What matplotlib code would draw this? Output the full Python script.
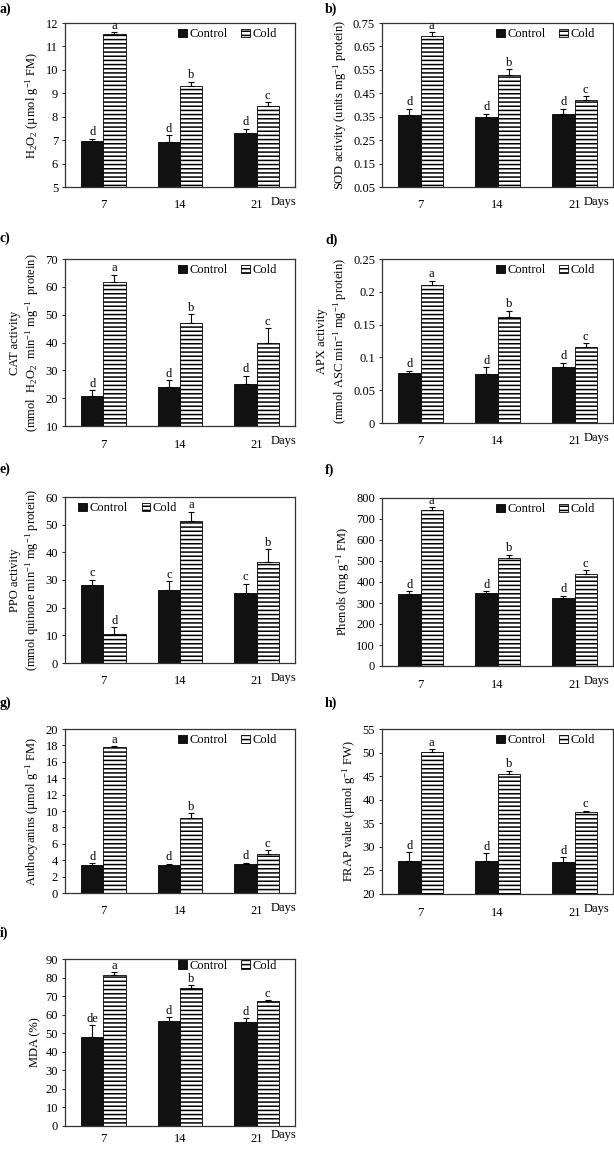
import matplotlib
matplotlib.use("Agg")
import matplotlib.pyplot as plt
import numpy as np
from matplotlib.ticker import FuncFormatter

plt.rcParams["font.family"] = ["Liberation Serif", "DejaVu Serif"]
plt.rcParams["mathtext.fontset"] = "custom"
plt.rcParams["mathtext.rm"] = "Liberation Serif"
plt.rcParams["mathtext.it"] = "Liberation Serif:italic"
plt.rcParams["font.size"] = 9
plt.rcParams["hatch.linewidth"] = 1.1

days = ["7", "14", "21"]
groups = ["Control", "Cold"]

# H2O2
h2o2_ctrl = [6.96, 6.92, 7.30]
h2o2_ctrl_err = [0.10, 0.28, 0.19]
h2o2_cold = [11.54, 9.30, 8.44]
h2o2_cold_err = [0.06, 0.19, 0.19]
# SOD
sod_ctrl = [0.356, 0.349, 0.363]
sod_ctrl_err = [0.028, 0.014, 0.021]
sod_cold = [0.693, 0.527, 0.423]
sod_cold_err = [0.018, 0.025, 0.015]
# CAT
cat_ctrl = [20.9, 23.9, 25.0]
cat_ctrl_err = [2.0, 2.6, 3.1]
cat_cold = [61.9, 47.1, 39.9]
cat_cold_err = [2.5, 3.0, 5.2]
# APX
apx_ctrl = [0.076, 0.074, 0.085]
apx_ctrl_err = [0.004, 0.011, 0.007]
apx_cold = [0.210, 0.162, 0.116]
apx_cold_err = [0.007, 0.009, 0.006]
# PPO
ppo_ctrl = [28.1, 26.5, 25.3]
ppo_ctrl_err = [2.0, 3.0, 3.3]
ppo_cold = [10.5, 51.4, 36.6]
ppo_cold_err = [2.4, 3.3, 4.6]
# Phenols
phe_ctrl = [341, 346, 325]
phe_ctrl_err = [16, 9, 9]
phe_cold = [741, 516, 437]
phe_cold_err = [16, 13, 18]
# Anthocyanins
ant_ctrl = [3.45, 3.37, 3.53]
ant_ctrl_err = [0.2, 0.2, 0.16]
ant_cold = [17.85, 9.17, 4.79]
ant_cold_err = [0.08, 0.57, 0.40]
# FRAP
frap_ctrl = [27.07, 27.07, 26.79]
frap_ctrl_err = [1.77, 1.56, 1.06]
frap_cold = [50.2, 45.39, 37.33]
frap_cold_err = [0.5, 0.78, 0.37]
# MDA
mda_ctrl = [47.9, 56.4, 56.0]
mda_ctrl_err = [6.3, 2.1, 2.1]
mda_cold = [81.4, 74.2, 67.1]
mda_cold_err = [1.4, 1.8, 0.7]

W, H = 614, 1149
fig = plt.figure(figsize=(W / 100, H / 100), dpi=100)


def ax_at(l, t, r, b):
    return fig.add_axes([l / W, 1 - b / H, (r - l) / W, (b - t) / H])


def panel(box, tag, tagpos, ylabel, ylim, ystep, ctrl, ctrl_err, cold, cold_err,
          let_ctrl, let_cold, leg_loc="upper right", leg_anchor=(0.96, 1.02), days_x=0.95,
          xpad=9, days_y=-0.09):
    ax = ax_at(*box)
    x = np.arange(len(days))
    w = 0.29
    ax.bar(x - w / 2, ctrl, w, color="#111111", edgecolor="black", lw=0.6, label=groups[0])
    ax.bar(x + w / 2, cold, w, color="white", edgecolor="black", lw=0.6,
           hatch="----", label=groups[1])
    ax.errorbar(x - w / 2, ctrl, yerr=[np.zeros(3), ctrl_err], fmt="none",
                ecolor="black", elinewidth=0.8, capsize=2.2, capthick=0.8)
    ax.errorbar(x + w / 2, cold, yerr=[np.zeros(3), cold_err], fmt="none",
                ecolor="black", elinewidth=0.8, capsize=2.2, capthick=0.8)
    for i in range(3):
        ax.annotate(let_ctrl[i], (x[i] - w / 2, ctrl[i] + ctrl_err[i]), xytext=(0, 0.3),
                    textcoords="offset points", ha="center", va="bottom", fontsize=9)
        ax.annotate(let_cold[i], (x[i] + w / 2, cold[i] + cold_err[i]), xytext=(0, 0.3),
                    textcoords="offset points", ha="center", va="bottom", fontsize=9)
    ax.set_xlim(-0.5, 2.5)
    ax.set_ylim(*ylim)
    ax.set_yticks(np.arange(ylim[0], ylim[1] + ystep / 2, ystep))
    ax.yaxis.set_major_formatter(FuncFormatter(lambda v, p: ("%.4f" % v).rstrip("0").rstrip(".")))
    ax.set_xticks(x)
    ax.set_xticklabels(days)
    ax.tick_params(axis="x", length=0, pad=xpad, labelsize=9)
    ax.tick_params(axis="y", length=2.5, direction="out", labelsize=9, width=0.6, pad=2.5)
    for s in ax.spines.values():
        s.set_linewidth(0.9)
        s.set_color("#333333")
    ax.set_ylabel(ylabel, fontsize=9, labelpad=3, linespacing=1.25)
    ax.text(days_x, days_y, "Days", transform=ax.transAxes, ha="center", va="center", fontsize=9)
    ax.legend(loc=leg_loc, bbox_to_anchor=leg_anchor, ncol=2, frameon=False, fontsize=9,
              handlelength=0.7, handleheight=0.7, handletextpad=0.2, columnspacing=1.1,
              borderaxespad=0.3)
    fig.text(tagpos[0] / W, 1 - tagpos[1] / H, tag, fontsize=10, fontweight="bold",
             ha="left", va="center")
    return ax


panel((65, 23, 295, 187), "a)", (0, 9), r"H$_\mathregular{2}$O$_\mathregular{2}$ (µmol g$^\mathregular{-1}$ FM)",
      (5, 12), 1, h2o2_ctrl, h2o2_ctrl_err, h2o2_cold, h2o2_cold_err,
      ["d", "d", "d"], ["a", "b", "c"])
panel((382, 23, 613, 187), "b)", (325, 9), r"SOD activity (units mg$^\mathregular{-1}$ protein)",
      (0.05, 0.75), 0.1, sod_ctrl, sod_ctrl_err, sod_cold, sod_cold_err,
      ["d", "d", "d"], ["a", "b", "c"], days_x=0.93)
panel((65, 259, 295, 426), "c)", (0, 238), "CAT activity\n" r"(mmol  H$_\mathregular{2}$O$_\mathregular{2}$  min$^\mathregular{-1}$ mg$^\mathregular{-1}$  protein)",
      (10, 70), 10, cat_ctrl, cat_ctrl_err, cat_cold, cat_cold_err,
      ["d", "d", "d"], ["a", "b", "c"])
panel((382, 259, 613, 423), "d)", (325, 240), "APX activity\n" r"(mmol ASC min$^\mathregular{-1}$ mg$^\mathregular{-1}$ protein)",
      (0, 0.25), 0.05, apx_ctrl, apx_ctrl_err, apx_cold, apx_cold_err,
      ["d", "d", "d"], ["a", "b", "c"], days_x=0.93)
panel((65, 497, 295, 663), "e)", (0, 469), "PPO activity\n" r"(mmol quinone min$^\mathregular{-1}$ mg$^\mathregular{-1}$ protein)",
      (0, 60), 10, ppo_ctrl, ppo_ctrl_err, ppo_cold, ppo_cold_err,
      ["c", "c", "c"], ["d", "a", "b"], leg_loc="upper left", leg_anchor=(0.02, 1.02))
panel((382, 498, 613, 666), "f)", (325, 470), r"Phenols (mg g$^\mathregular{-1}$ FM)",
      (0, 800), 100, phe_ctrl, phe_ctrl_err, phe_cold, phe_cold_err,
      ["d", "d", "d"], ["a", "b", "c"], days_x=0.93)
panel((65, 729, 295, 893), "g)", (0, 703), r"Anthocyanins (µmol g$^\mathregular{-1}$ FM)",
      (0, 20), 2, ant_ctrl, ant_ctrl_err, ant_cold, ant_cold_err,
      ["d", "d", "d"], ["a", "b", "c"])
panel((382, 729, 613, 894), "h)", (325, 703), r"FRAP value (µmol g$^\mathregular{-1}$ FW)",
      (20, 55), 5, frap_ctrl, frap_ctrl_err, frap_cold, frap_cold_err,
      ["d", "d", "d"], ["a", "b", "c"], days_x=0.93)
panel((65, 959, 295, 1126), "i)", (0, 933), "MDA (%)",
      (0, 90), 10, mda_ctrl, mda_ctrl_err, mda_cold, mda_cold_err,
      ["de", "d", "d"], ["a", "b", "c"], leg_anchor=(0.96, 1.045), xpad=5, days_y=-0.055)

fig.savefig("out.png", dpi=100, facecolor="white")
